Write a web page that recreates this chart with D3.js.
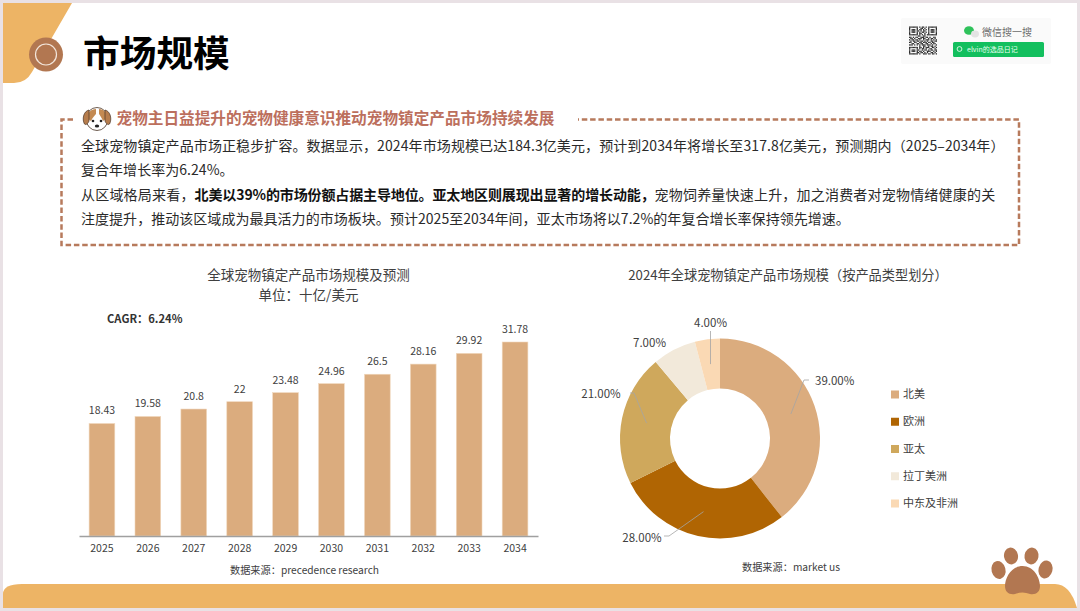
<!DOCTYPE html>
<html lang="zh"><head><meta charset="utf-8">
<script src="https://cdn.jsdelivr.net/npm/d3@7/dist/d3.min.js"></script>
<style>html,body{margin:0;padding:0;background:#e9e1e5;overflow:hidden}svg{display:block}text{font-family:"Noto Sans CJK SC","Noto Sans",sans-serif}</style>
</head><body><svg id="c" width="1080" height="611"></svg>
<script>
const years=["2025","2026","2027","2028","2029","2030","2031","2032","2033","2034"];
const marketSize=[18.43,19.58,20.8,22,23.48,24.96,26.5,28.16,29.92,31.78];
const marketLabels=["18.43","19.58","20.8","22","23.48","24.96","26.5","28.16","29.92","31.78"];
const regions=["北美","欧洲","亚太","拉丁美洲","中东及非洲"];
const regionShare=[39,28,21,7,4];
const regionColors=["#dbac7e","#b06503","#cfa85c","#f2e9da","#fad9b4"];
const regionLabels=["39.00%","28.00%","21.00%","7.00%","4.00%"];
const bodyLines=[
 [["全球宠物镇定产品市场正稳步扩容。数据显示，2024年市场规模已达184.3亿美元，预计到2034年将增长至317.8亿美元，预测期内（2025–2034年）",0]],
 [["复合年增长率为6.24%。",0]],
 [["从区域格局来看，",0],["北美以39%的市场份额占据主导地位。亚太地区则展现出显著的增长动能，",1],["宠物饲养量快速上升，加之消费者对宠物情绪健康的关",0]],
 [["注度提升，推动该区域成为最具活力的市场板块。预计2025至2034年间，亚太市场将以7.2%的年复合增长率保持领先增速。",0]]
];
const qrRows=["1111111010110101111111","1000001001101001000001","1011101011010101011101","1011101101011001011101","1011101010110101011101","1000001011001001000001","1111111010101011111111","0000000110011000000000","1101011001110110100110","0110100111011001011010","1011011010010111010101","0101101101101010011011","1100110011011101101100","0011001101100110010110","1110101010111011101001","0000000010011001011010","1111111011010111001101","1000001010110100110010","1011101100101101011011","1011101011010011100101","1000001101101010011010","1111111010011101101101"];

const svg=d3.select("#c");
// page
svg.append("rect").attr("x",3).attr("y",3).attr("width",1074).attr("height",605).attr("fill","#fff");
// corner shape
svg.append("path").attr("d","M3 3H72L32 72Q26 83 14 83H3Z").attr("fill","#edb465");
// footer band
svg.append("path").attr("d","M3 608V594Q3 584 22 584H1055Q1070 584 1077 608Z").attr("fill","#edb465");
// header bullet
svg.append("circle").attr("cx",46).attr("cy",54.5).attr("r",17).attr("fill","#b27751");
svg.append("circle").attr("cx",46).attr("cy",54.5).attr("r",10.5).attr("fill","none").attr("stroke","#f3e6dc").attr("stroke-width",1.2);
svg.append("text").attr("x",83).attr("y",67).attr("font-size",36.7).attr("font-weight",700).attr("fill","#000").text("市场规模");

// WeChat card
svg.append("rect").attr("x",901).attr("y",18).attr("width",150).attr("height",46).attr("rx",2).attr("fill","#fafafa");
const qr=svg.append("g");
const qx=d3.scaleBand().domain(d3.range(22)).range([909,937]);
qrRows.forEach((r,j)=>r.split("").forEach((v,i)=>{if(v==="1")qr.append("rect").attr("x",qx(i)).attr("y",26.5+j*qx.step()).attr("width",qx.step()).attr("height",qx.step()).attr("fill","#2b2b2b");}));
svg.append("ellipse").attr("cx",969).attr("cy",30.5).attr("rx",5).attr("ry",4.3).attr("fill","#2fc25b");
svg.append("ellipse").attr("cx",975).attr("cy",34).attr("rx",4).attr("ry",3.4).attr("fill","#e3e3e3");
svg.append("text").attr("x",982).attr("y",36).attr("font-size",10).attr("fill","#6b6b6b").text("微信搜一搜");
svg.append("rect").attr("x",953).attr("y",42).attr("width",91).attr("height",15).attr("rx",1.5).attr("fill","#13bf5e");
svg.append("circle").attr("cx",959.5).attr("cy",49).attr("r",2.4).attr("fill","none").attr("stroke","#fff").attr("stroke-width",.8);
svg.append("text").attr("x",967).attr("y",52).attr("font-size",7).attr("fill","#e8fff0").text("elvin的选品日记");

// dashed box
const dash="#b77a5c";
svg.append("path").attr("d","M73 119.5H61.5V245H1019V119.5H578").attr("fill","none").attr("stroke",dash).attr("stroke-width",2.5).attr("stroke-dasharray","5.5 2.8");
// dog icon
const dog=svg.append("g").attr("transform","translate(97,120)");
dog.append("ellipse").attr("cx",0).attr("cy",-1).attr("rx",11).attr("ry",11.5).attr("fill","#fff").attr("stroke","#4a3526").attr("stroke-width",.8);
dog.append("path").attr("d","M-1 -11C-6 -11 -10 -7 -10 -2L-6 1C-4 -3 -2 -5 -1 -6ZM2 -11C7 -11 10 -7 10 -2L6 1C4 -3 3 -5 2 -6Z").attr("fill","#c48a52");
dog.append("path").attr("d","M-8 -10C-13 -9 -15 -2 -13 3C-12 6 -9 4 -8 1Z").attr("fill","#b67d4d").attr("stroke","#4a3526").attr("stroke-width",.7);
dog.append("path").attr("d","M8 -10C13 -9 15 -2 13 3C12 6 9 4 8 1Z").attr("fill","#b67d4d").attr("stroke","#4a3526").attr("stroke-width",.7);
dog.append("circle").attr("cx",-4).attr("cy",1).attr("r",1.3).attr("fill","#222");
dog.append("circle").attr("cx",4).attr("cy",1).attr("r",1.3).attr("fill","#222");
dog.append("ellipse").attr("cx",0).attr("cy",6).attr("rx",2.2).attr("ry",1.5).attr("fill","#222");
svg.append("text").attr("x",116.5).attr("y",124).attr("font-size",15.65).attr("font-weight",700).attr("fill","#bc6f5d").text("宠物主日益提升的宠物健康意识推动宠物镇定产品市场持续发展");
// body
const lineY=[151,175,199.5,224];
const lineTrack=[.1,.04,.2,.04];
bodyLines.forEach((segs,i)=>{
  const t=svg.append("text").attr("x",81).attr("y",lineY[i]).attr("font-size",14).attr("fill","#222");
  segs.forEach(s=>t.append("tspan").attr("font-weight",s[1]?700:400).attr("letter-spacing",s[1]?-0.12:lineTrack[i]).attr("fill",s[1]?"#111":"#2a2a2a").text(s[0]));
});

// bar chart
const grey="#404040";
const ctitle=(x,y,s,fs,w)=>svg.append("text").attr("x",x).attr("y",y).attr("text-anchor","middle").attr("font-size",fs).attr("font-weight",w||400).attr("fill",grey).text(s);
ctitle(308.5,280,"全球宠物镇定产品市场规模及预测",13.5);
ctitle(308.5,299.5,"单位：十亿/美元",13.5);
svg.append("text").attr("x",107).attr("y",323).attr("font-size",11.2).attr("font-weight",700).attr("fill","#333").text("CAGR：6.24%");
const x=d3.scaleBand().domain(years).range([79,538]).paddingInner(.44).paddingOuter(.22);
const y=d3.scaleLinear().domain([0,31.78]).range([536,342]);
svg.append("g").selectAll("rect").data(years).join("rect")
 .attr("x",d=>x(d)).attr("width",x.bandwidth())
 .attr("y",(d,i)=>y(marketSize[i])).attr("height",(d,i)=>536-y(marketSize[i]))
 .attr("fill","#dbac7e").attr("stroke","#f0d8bd").attr("stroke-width",.6);
svg.append("g").selectAll("text").data(years).join("text")
 .attr("x",d=>x(d)+x.bandwidth()/2).attr("y",(d,i)=>y(marketSize[i])-9)
 .attr("text-anchor","middle").attr("font-size",10.5).attr("fill",grey).text((d,i)=>marketLabels[i]);
const ax=svg.append("g").attr("transform","translate(0,536)").call(d3.axisBottom(x).tickSize(0).tickPadding(9));
ax.select(".domain").attr("stroke","#a0a0a0").attr("stroke-width",1.5);
ax.selectAll("text").attr("font-size",10.5).attr("fill",grey).attr("font-family",'"Noto Sans CJK SC"');
ctitle(304.5,574,"数据来源：precedence research",10.2);

// donut
ctitle(788,279.5,"2024年全球宠物镇定产品市场规模（按产品类型划分）",13.2);
const cx=720,cy=438.5;
const pie=d3.pie().sort(null)(regionShare);
const arc=d3.arc().innerRadius(50).outerRadius(100);
const g=svg.append("g").attr("transform",`translate(${cx},${cy})`);
g.selectAll("path").data(pie).join("path").attr("d",arc).attr("fill",(d,i)=>regionColors[i]);
// leaders anchored at each slice's midpoint
const lab=[{tx:815,ty:381,ex:809,ey:381,ta:"start"},{tx:642,ty:538,ex:669,ey:536,ta:"middle"},{tx:601,ty:394,ex:630,ey:393,ta:"middle"},{tx:649.5,ty:343,ex:null,ta:"middle"},{tx:710.5,ty:323,ex:710.5,ey:331,ta:"middle"}];
pie.forEach((d,i)=>{
  const c=arc.centroid(d), l=lab[i];
  if(l.ex!==null) svg.append("polyline").attr("points",i===4?`${l.ex},${cy+c[1]} ${l.ex},${l.ey}`:`${cx+c[0]},${cy+c[1]} ${i===0?804:i===1?669:625+9},${i===0?380:i===1?536:393} ${i===0?809:i===1?664:630},${i===0?380:i===1?536:393}`)
    .attr("fill","none").attr("stroke","#a5a5a5").attr("stroke-width",.8);
  svg.append("text").attr("x",l.tx).attr("y",l.ty+4).attr("text-anchor",l.ta).attr("font-size",11.5).attr("fill",grey).text(regionLabels[i]);
});
// legend
const ly=d3.scalePoint().domain(regions).range([394,503]);
const lg=svg.append("g").selectAll("g").data(regions).join("g").attr("transform",d=>`translate(891,${ly(d)})`);
lg.append("rect").attr("y",-3.5).attr("width",8).attr("height",8).attr("fill",(d,i)=>regionColors[i]);
lg.append("text").attr("x",12).attr("y",4).attr("font-size",11).attr("fill",grey).text(d=>d);
ctitle(791,571,"数据来源：market us",10.2);

// paw
const paw=svg.append("g").attr("fill","#b27751");
[[998.5,570,7,9,-15],[1011,556,7,8.5,-10],[1031.5,556,7,8.5,10],[1045.5,569.5,7,9,15]].forEach(p=>paw.append("ellipse").attr("cx",p[0]).attr("cy",p[1]).attr("rx",p[2]).attr("ry",p[3]).attr("transform",`rotate(${p[4]} ${p[0]} ${p[1]})`));
paw.append("path").attr("d","M1022.5 566C1034 566 1040 578 1040 586C1040 592 1036 595 1030 594C1025 592 1020 592 1015 594C1009 595 1005 592 1005 586C1005 578 1011 566 1022.5 566Z");
</script></body></html>
